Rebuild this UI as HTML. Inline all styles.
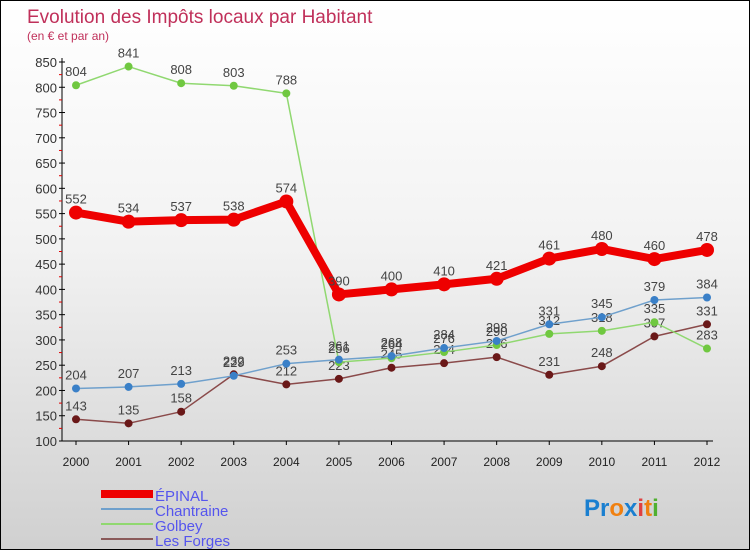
<!DOCTYPE html>
<html><head><meta charset="utf-8"><style>
body{margin:0}
#c{width:748px;height:548px;border:1px solid #000;background:linear-gradient(#fff 0%,#f2f2f2 45%,#d0d0d0 100%);position:relative;font-family:"Liberation Sans",sans-serif;overflow:hidden}
text{font-family:"Liberation Sans",sans-serif}
</style></head><body>
<div id="c">
<svg id="s" width="748" height="548">
<text x="26" y="22" font-size="19" fill="#c0305a">Evolution des Impôts locaux par Habitant</text>
<text x="26" y="39" font-size="12" fill="#c0305a">(en € et par an)</text>
<g id="axes"></g><g id="series"></g>
<g>
<rect x="100" y="489" width="52" height="8" fill="#ee0000"/>
<text x="154" y="500" font-size="15" fill="#5555ee">ÉPINAL</text>
<rect x="100" y="507" width="52" height="2" fill="#6fa0cc"/>
<text x="154" y="515" font-size="15" fill="#5555ee">Chantraine</text>
<rect x="100" y="522" width="52" height="2" fill="#90d870"/>
<text x="154" y="530" font-size="15" fill="#5555ee">Golbey</text>
<rect x="100" y="537" width="52" height="2" fill="#8a5a5a"/>
<text x="154" y="545" font-size="15" fill="#5555ee">Les Forges</text>
</g>
<text x="583" y="515" font-size="24" font-weight="bold"><tspan fill="#1a7fd0">Pr</tspan><tspan fill="#f08010">o</tspan><tspan fill="#1a7fd0">x</tspan><tspan fill="#e04040">i</tspan><tspan fill="#f08010">t</tspan><tspan fill="#50b030">i</tspan></text>
</svg></div>
<script>
const years=[2000,2001,2002,2003,2004,2005,2006,2007,2008,2009,2010,2011,2012];
const epinal=[552,534,537,538,574,390,400,410,421,461,480,460,478];
const chantraine=[204,207,213,229,253,261,268,284,298,331,345,379,384];
const golbey=[804,841,808,803,788,256,264,276,290,312,318,335,283];
const lesForges=[143,135,158,232,212,223,245,254,266,231,248,307,331];
const yTicks=[100,150,200,250,300,350,400,450,500,550,600,650,700,750,800,850];
const NS="http://www.w3.org/2000/svg";
const X=i=>75+i*(706-75)/(years.length-1);
const Y=v=>440-(v-100)*(440-61)/750;
function mk(t,a,p){const e=document.createElementNS(NS,t);for(const k in a)e.setAttribute(k,a[k]);p.appendChild(e);return e;}
const ax=document.getElementById('axes'),sg=document.getElementById('series');
const yl=mk('line',{x1:61,y1:57,x2:61,y2:440,stroke:'#000'},ax);


const xl=mk('line',{x1:61,y1:440,x2:712,y2:440,stroke:'#000'},ax);


yTicks.forEach(v=>{
 mk('line',{x1:58,x2:64,y1:Y(v),y2:Y(v),stroke:'#000'},ax);
 if(v<850)mk('line',{x1:58,x2:61,y1:Y(v+25),y2:Y(v+25),stroke:'#e00000'},ax);
 const t=mk('text',{x:56,y:Y(v)+5,'text-anchor':'end','font-size':13,fill:'#333'},ax);t.textContent=v;
 
 
});
years.forEach((y,i)=>{
 mk('line',{x1:X(i),x2:X(i),y1:440,y2:444,stroke:'#000'},ax);
 const t=mk('text',{x:X(i),y:465,'text-anchor':'middle','font-size':12,fill:'#222'},ax);t.textContent=y;
 
 
});
function series(d,col,w,r,name,dot){
 const g=mk('g',{},sg);
 
 
 const p=mk('polyline',{points:d.map((v,i)=>X(i)+','+Y(v)).join(' '),fill:'none',stroke:col,'stroke-width':w,'stroke-linejoin':'round'},g);
 
 
 d.forEach((v,i)=>{
  const c=mk('circle',{cx:X(i),cy:Y(v),r:r,fill:dot},g);
  
  
  const t=mk('text',{x:X(i),y:Y(v)-9,'text-anchor':'middle','font-size':13,fill:'#444'},g);t.textContent=v;
  
  
 });
}
series(lesForges,'#8a4a4a',1.5,4,'les-forges','#6a1818');
series(golbey,'#90d870',1.5,4,'golbey','#70c840');
series(chantraine,'#6fa0cc',1.5,4,'chantraine','#3a80c8');
series(epinal,'#ee0000',8,7,'epinal','#ee0000');
</script>
</body></html>
